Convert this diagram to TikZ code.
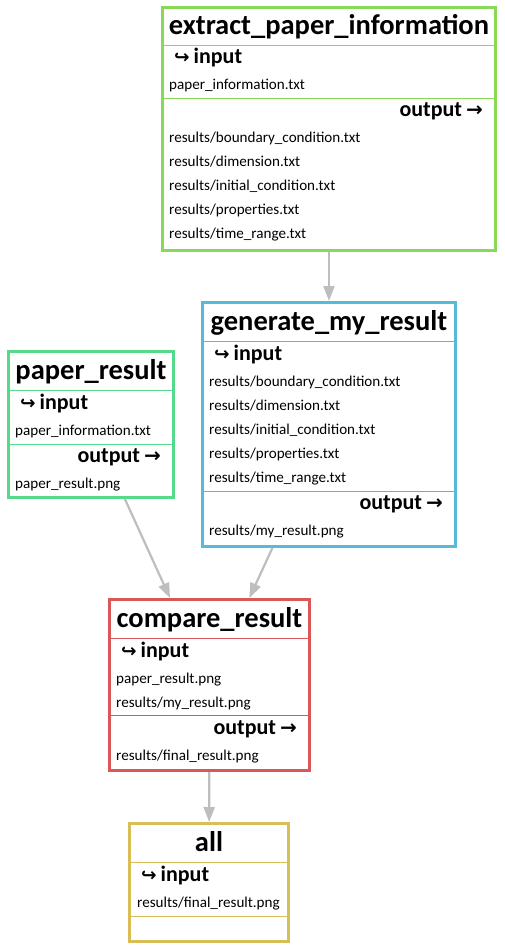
\documentclass[tikz,border=0pt]{standalone}
\usepackage{fontspec}
\setmainfont{Carlito}
\newfontfamily\arrowfont{DejaVu Sans}
\usetikzlibrary{arrows.meta}
\definecolor{cextract}{RGB}{136,217,87}
\definecolor{cgenerate}{RGB}{87,186,217}
\definecolor{cpaper}{RGB}{87,217,140}
\definecolor{ccompare}{RGB}{217,87,87}
\definecolor{call}{RGB}{217,190,87}
\definecolor{edgegray}{RGB}{190,190,190}
\tikzset{
  rulebox/.style={draw=#1, line width=2.6pt, outer sep=1.3pt, inner sep=0pt, anchor=north west, fill=white},
  divider/.style={draw=#1, line width=1pt},
  titletext/.style={anchor=base, inner sep=0pt, font=\fontsize{28.5}{30}\selectfont\bfseries},
  inlabel/.style={anchor=base west, inner sep=0pt, font=\fontsize{22}{24}\selectfont\bfseries},
  outlabel/.style={anchor=base east, inner sep=0pt, font=\fontsize{22}{24}\selectfont\bfseries},
  filetext/.style={anchor=base west, inner sep=0pt, font=\fontsize{15.1}{17}\selectfont},
  dep/.style={draw=edgegray, line width=2.2pt, -{Triangle[length=15pt,width=11pt]}}
}
\newcommand{\inarrow}{{\arrowfont\fontsize{18.5}{18}\selectfont ↪}\hspace{4pt}input}
\newcommand{\outarrow}{output\hspace{4pt}{\arrowfont\fontsize{20}{18}\selectfont →}}
\begin{document}
\begin{tikzpicture}[x=1pt,y=-1pt]
\useasboundingbox (0,0) rectangle (504,949);
\fill[white] (0,0) rectangle (504,949);

% ---------- extract_paper_information ----------
\node[rulebox=cextract, minimum width=333.4pt, minimum height=243.4pt] (extract) at (161,6) {};
\draw[divider=cextract] (162,46) -- (496,46);
\draw[divider=cextract] (162,99) -- (496,99);
\node[titletext] (extractT) at (329,35) {extract\_paper\_information};
\node[inlabel] (extractI) at (174,64) {\inarrow};
\node[filetext] (extractI1) at (169,90) {paper\_information.txt};
\node[outlabel] (extractO) at (483,117) {\outarrow};
\node[filetext] (extractO1) at (169,143) {results/boundary\_condition.txt};
\node[filetext] (extractO2) at (169,167) {results/dimension.txt};
\node[filetext] (extractO3) at (169,191) {results/initial\_condition.txt};
\node[filetext] (extractO4) at (169,215) {results/properties.txt};
\node[filetext] (extractO5) at (169,239) {results/time\_range.txt};

% ---------- generate_my_result ----------
\node[rulebox=cgenerate, minimum width=253.4pt, minimum height=244.4pt] (generate) at (201,301) {};
\draw[divider=cgenerate] (202,341) -- (456,341);
\draw[divider=cgenerate] (202,491) -- (456,491);
\node[titletext] (generateT) at (329,330) {generate\_my\_result};
\node[inlabel] (generateI) at (214,360) {\inarrow};
\node[filetext] (generateI1) at (209,386) {results/boundary\_condition.txt};
\node[filetext] (generateI2) at (209,410) {results/dimension.txt};
\node[filetext] (generateI3) at (209,434) {results/initial\_condition.txt};
\node[filetext] (generateI4) at (209,458) {results/properties.txt};
\node[filetext] (generateI5) at (209,482) {results/time\_range.txt};
\node[outlabel] (generateO) at (443,509) {\outarrow};
\node[filetext] (generateO1) at (209,535) {results/my\_result.png};

% ---------- paper_result ----------
\node[rulebox=cpaper, minimum width=165.4pt, minimum height=146.4pt] (paper) at (7,350) {};
\draw[divider=cpaper] (8,390) -- (174,390);
\draw[divider=cpaper] (8,444) -- (174,444);
\node[titletext] (paperT) at (91,379) {paper\_result};
\node[inlabel] (paperI) at (20,409) {\inarrow};
\node[filetext] (paperI1) at (15,435) {paper\_information.txt};
\node[outlabel] (paperO) at (161,462) {\outarrow};
\node[filetext] (paperO1) at (15,488) {paper\_result.png};

% ---------- compare_result ----------
\node[rulebox=ccompare, minimum width=200.4pt, minimum height=171.4pt] (compare) at (108,598) {};
\draw[divider=ccompare] (109,638) -- (310,638);
\draw[divider=ccompare] (109,715) -- (310,715);
\node[titletext] (compareT) at (209.5,627) {compare\_result};
\node[inlabel] (compareI) at (121,657) {\inarrow};
\node[filetext] (compareI1) at (116,683) {paper\_result.png};
\node[filetext] (compareI2) at (116,707) {results/my\_result.png};
\node[outlabel] (compareO) at (297,734) {\outarrow};
\node[filetext] (compareO1) at (116,760) {results/final\_result.png};

% ---------- all ----------
\node[rulebox=call, minimum width=159.4pt, minimum height=118.4pt] (all) at (128,822) {};
\draw[divider=call] (129,862) -- (289,862);
\draw[divider=call] (129,916) -- (289,916);
\node[titletext] (allT) at (209,851) {all};
\node[inlabel] (allI) at (141,881) {\inarrow};
\node[filetext] (allI1) at (137,907) {results/final\_result.png};

% ---------- dependencies ----------
\draw[dep] (extract) -- (generate);
\draw[dep] (paper) -- (compare);
\draw[dep] (generate) -- (compare);
\draw[dep] (compare) -- (all);
\end{tikzpicture}
\end{document}
